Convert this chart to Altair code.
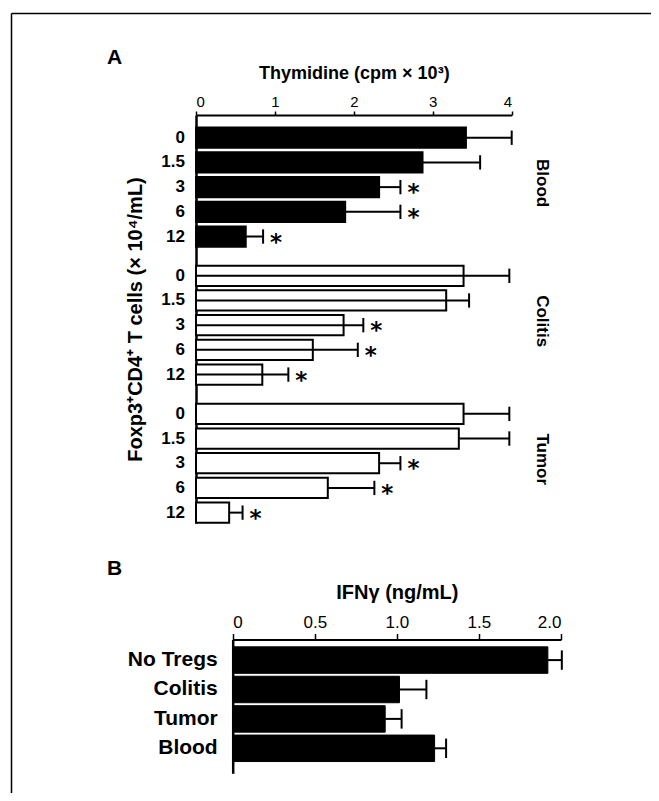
import altair as alt
import pandas as pd

# ---------------- data ----------------
concs = ["0", "1.5", "3", "6", "12"]
groups = ["Blood", "Colitis", "Tumor"]
thy_blood = [3.42, 2.87, 2.32, 1.89, 0.63]
thy_blood_err = [0.58, 0.73, 0.27, 0.70, 0.22]
thy_colitis = [3.39, 3.17, 1.87, 1.48, 0.84]
thy_colitis_err = [0.58, 0.29, 0.25, 0.57, 0.33]
thy_tumor = [3.39, 3.33, 2.32, 1.67, 0.42]
thy_tumor_err = [0.58, 0.64, 0.27, 0.59, 0.17]
signif = [False, False, True, True, True]

ifn_labels = ["No Tregs", "Colitis", "Tumor", "Blood"]
ifn_values = [1.92, 1.016, 0.929, 1.23]
ifn_err = [0.085, 0.164, 0.10, 0.07]

# ---------------- tables ----------------
GAP = 0.59
vals = {"Blood": (thy_blood, thy_blood_err),
        "Colitis": (thy_colitis, thy_colitis_err),
        "Tumor": (thy_tumor, thy_tumor_err)}
rows = []
for gi, g in enumerate(groups):
    v, e = vals[g]
    for ri, c in enumerate(concs):
        rows.append({"group": g, "conc": c, "value": v[ri], "err": e[ri],
                     "star": "*" if signif[ri] else "",
                     "pos": gi * (5 + GAP) + ri})
dfA = pd.DataFrame(rows)
dfA["zero"] = 0.0
dfA["cap"] = dfA["value"] + dfA["err"]
dfA["y0"] = dfA["pos"] - 0.41
dfA["y1"] = dfA["pos"] + 0.41
dfA["c0"] = dfA["pos"] - 0.29
dfA["c1"] = dfA["pos"] + 0.29
dfA["errstart"] = [0.0 if g == "Colitis" else v for g, v in zip(dfA["group"], dfA["value"])]

dfG = pd.DataFrame({"group": groups,
                    "center": [gi * (5 + GAP) + 2 for gi in range(len(groups))]})

dfB = pd.DataFrame({"label": ifn_labels, "value": ifn_values, "err": ifn_err,
                    "pos": list(range(len(ifn_labels)))})
dfB["zero"] = 0.0
dfB["cap"] = dfB["value"] + dfB["err"]
dfB["y0"] = dfB["pos"] - 0.45
dfB["y1"] = dfB["pos"] + 0.45
dfB["c0"] = dfB["pos"] - 0.33
dfB["c1"] = dfB["pos"] + 0.33

FONT = "Liberation Sans"

# ---------------- panel A ----------------
def xA():
    return alt.Scale(domain=[0, 4], range=[0, 315.7], nice=False, zero=False)


def yA():
    return alt.Scale(domain=[-0.92, 15.6], range=[0, 408], nice=False, zero=False)


baseA = alt.Chart(dfA)
barsA = baseA.mark_rect(stroke="black", strokeWidth=2).encode(
    x=alt.X("zero:Q", scale=xA(),
            axis=alt.Axis(orient="top", values=[0, 1, 2, 3, 4], format="d",
                          title="Thymidine (cpm × 10³)", titleFontSize=18,
                          titleFontWeight="bold", labelFontSize=15,
                          tickSize=4, tickWidth=1.5, domainWidth=2,
                          labelPadding=2, titlePadding=12, grid=False)),
    x2="value:Q",
    y=alt.Y("y0:Q", scale=yA(),
            axis=alt.Axis(orient="left", labels=False, ticks=False,
                          domainWidth=2.5, title="Foxp3⁺CD4⁺ T cells (× 10⁴/mL)",
                          titleFontSize=20, titleFontWeight="bold",
                          titlePadding=51, grid=False)),
    y2="y1:Q",
    fill=alt.Fill("group:N", scale=alt.Scale(domain=groups, range=["black", "white", "white"]),
                  legend=None),
)
errA = baseA.mark_rule(color="black", strokeWidth=2).encode(
    x=alt.X("errstart:Q", scale=xA(), axis=None), x2="cap:Q",
    y=alt.Y("pos:Q", scale=yA(), axis=None))
capA = baseA.mark_rule(color="black", strokeWidth=2).encode(
    x=alt.X("cap:Q", scale=xA(), axis=None),
    y=alt.Y("c0:Q", scale=yA(), axis=None), y2="c1:Q")
starA = baseA.mark_text(font="DejaVu Sans", fontSize=23, fontWeight="bold", align="center",
                        baseline="middle", dx=13, dy=6, color="black").encode(
    x=alt.X("cap:Q", scale=xA(), axis=None),
    y=alt.Y("pos:Q", scale=yA(), axis=None), text="star:N")
labA = baseA.mark_text(font=FONT, fontSize=17, fontWeight="bold", align="right",
                       baseline="middle", dx=-11, color="black").encode(
    x=alt.X("zero:Q", scale=xA(), axis=None),
    y=alt.Y("pos:Q", scale=yA(), axis=None), text="conc:N")
grpA = alt.Chart(dfG).mark_text(font=FONT, fontSize=17, fontWeight="bold", angle=90,
                                align="center", baseline="middle", dx=-4,
                                color="black").encode(
    x=alt.value(346),
    y=alt.Y("center:Q", scale=yA(), axis=None), text="group:N")

one = pd.DataFrame({"t": ["A"]})
letterA = alt.Chart(pd.DataFrame({"t": ["A"]})).mark_text(
    font=FONT, fontSize=21, fontWeight="bold", align="left", baseline="alphabetic",
    color="black").encode(x=alt.value(-89), y=alt.value(-51), text="t:N")
frameTop = alt.Chart(one).mark_rule(color="black", strokeWidth=1.5).encode(
    x=alt.value(-184.5), x2=alt.value(455), y=alt.value(-101.5))
frameLeft = alt.Chart(one).mark_rule(color="black", strokeWidth=1.5).encode(
    x=alt.value(-184.5), y=alt.value(-101.5), y2=alt.value(678))

# ---------------- panel B ----------------
def xB():
    return alt.Scale(domain=[0, 2], range=[36.7, 365], nice=False, zero=False)


def yB():
    return alt.Scale(domain=[-0.70, 3.85], range=[524.5, 658.3], nice=False, zero=False)


baseB = alt.Chart(dfB)
barsB = baseB.mark_rect(color="black", stroke="black", strokeWidth=1).encode(
    x=alt.X("zero:Q", scale=xB(),
            axis=alt.Axis(orient="top", offset=-524.5, values=[0, 0.5, 1, 1.5, 2],
                          labelExpr="datum.value == 0 ? '0' : format(datum.value, '.1f')",
                          title="IFNγ (ng/mL)", titleFontSize=20,
                          titleFontWeight="bold", labelFontSize=17,
                          tickSize=6, tickWidth=1.5, domainWidth=2,
                          labelPadding=2, titlePadding=11, grid=False)),
    x2="value:Q",
    y=alt.Y("y0:Q", scale=yB(),
            axis=alt.Axis(orient="left", offset=-36.7, labels=False, ticks=False,
                          domainWidth=2.5, title=None, grid=False)),
    y2="y1:Q",
)
errB = baseB.mark_rule(color="black", strokeWidth=2).encode(
    x=alt.X("value:Q", scale=xB(), axis=None), x2="cap:Q",
    y=alt.Y("pos:Q", scale=yB(), axis=None))
capB = baseB.mark_rule(color="black", strokeWidth=2).encode(
    x=alt.X("cap:Q", scale=xB(), axis=None),
    y=alt.Y("c0:Q", scale=yB(), axis=None), y2="c1:Q")
labB = baseB.mark_text(font=FONT, fontSize=21, fontWeight="bold", align="right",
                       baseline="middle", dx=-15, color="black").encode(
    x=alt.X("zero:Q", scale=xB(), axis=None),
    y=alt.Y("pos:Q", scale=yB(), axis=None), text="label:N")
letterB = alt.Chart(pd.DataFrame({"t": ["B"]})).mark_text(
    font=FONT, fontSize=21, fontWeight="bold", align="left", baseline="alphabetic",
    color="black").encode(x=alt.value(-89), y=alt.value(460), text="t:N")

# every layer has its own (identically specified) scales
chart = alt.layer(
    barsA, errA, capA, starA, labA, grpA, letterA, frameTop, frameLeft,
    barsB, errB, capB, labB, letterB,
).resolve_scale(
    x="independent", y="independent", fill="independent"
).resolve_axis(
    x="independent", y="independent"
).properties(
    width=455, height=678,
    padding={"left": 188, "top": 107, "right": 0, "bottom": 0},
    autosize=alt.AutoSizeParams(type="none"),
    background="white",
).configure_view(stroke=None).configure_axis(
    domainColor="black", tickColor="black", labelColor="black", titleColor="black",
    labelFont=FONT, titleFont=FONT, grid=False
)

chart.save("out.html", embed_options={"renderer": "svg", "actions": False})
